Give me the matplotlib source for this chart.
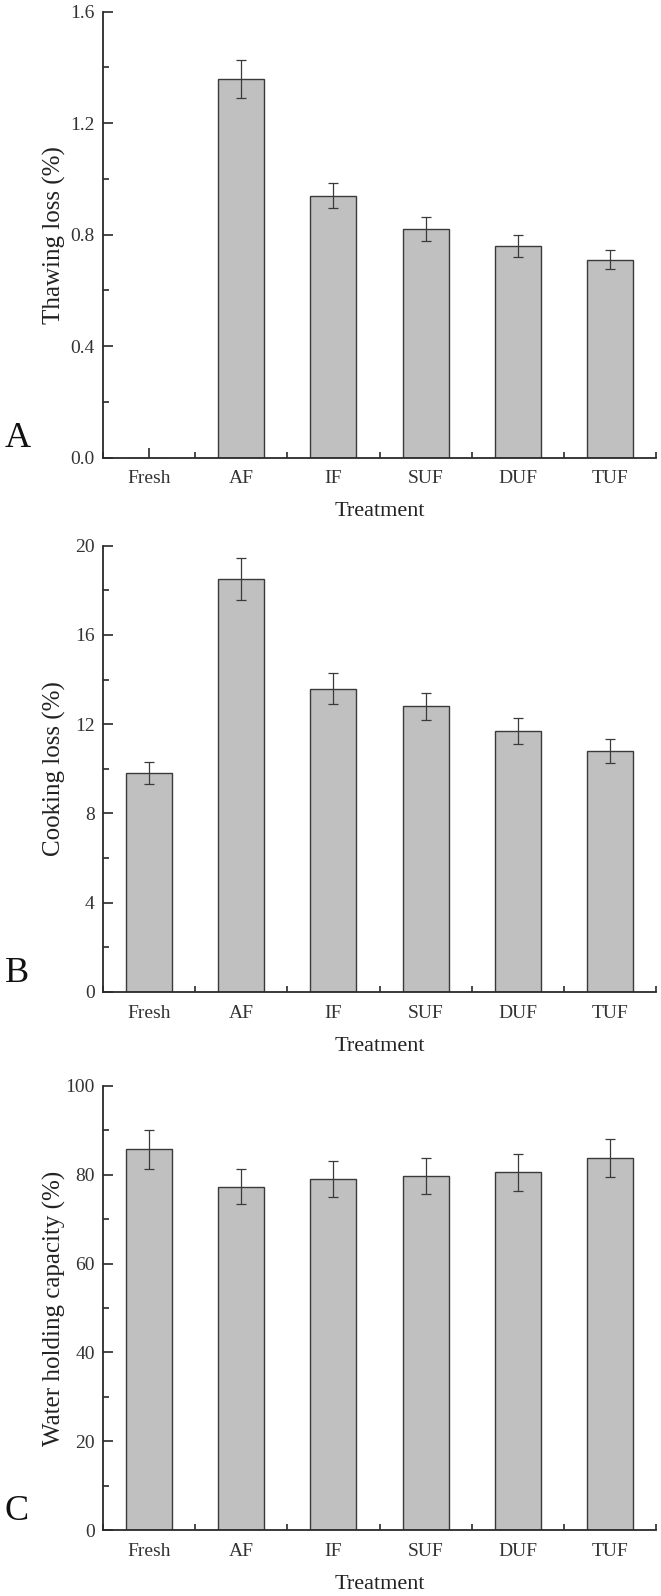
import numpy as np
import matplotlib
matplotlib.use("Agg")
import matplotlib.pyplot as plt
from matplotlib.ticker import MultipleLocator, FixedLocator, FormatStrFormatter

plt.rcParams['font.family'] = ['Liberation Serif', 'DejaVu Serif']

treatments = ['Fresh', 'AF', 'IF', 'SUF', 'DUF', 'TUF']

thawing_loss = [0.0, 1.36, 0.94, 0.82, 0.76, 0.71]
thawing_err = [0.0, 0.068, 0.046, 0.042, 0.040, 0.035]

cooking_loss = [9.8, 18.5, 13.6, 12.8, 11.7, 10.8]
cooking_err = [0.5, 0.94, 0.70, 0.62, 0.57, 0.55]

whc = [85.7, 77.3, 79.0, 79.7, 80.5, 83.7]
whc_err = [4.4, 3.9, 4.1, 4.0, 4.1, 4.2]

W, H = 661, 1596
fig = plt.figure(figsize=(W / 100, H / 100), dpi=100)

def px_rect(left, top, right, bottom):
    return [left / W, 1 - bottom / H, (right - left) / W, (bottom - top) / H]

panels = [
    ('A', thawing_loss, thawing_err, 'Thawing loss (%)', 1.6, 0.4, 0.2, '%.1f', (11.7, 457.5)),
    ('B', cooking_loss, cooking_err, 'Cooking loss (%)', 20, 4, 2, '%d', (545.7, 992.0)),
    ('C', whc, whc_err, 'Water holding capacity (%)', 100, 20, 10, '%d', (1085.7, 1530.3)),
]

x = np.arange(1, len(treatments) + 1)
dark = '#2a2a2a'

for letter, vals, errs, ylabel, ymax, major, minor, fmt, (top, bot) in panels:
    ax = fig.add_axes(px_rect(103, top, 656, bot))
    ax.bar(x, vals, width=0.5, color='#c0c0c0', edgecolor='#3a3a3a', linewidth=1.0, zorder=2)
    # no error bar drawn where the value is zero (Fresh thawing loss)
    xs = [xi for xi, e in zip(x, errs) if e > 0]
    vs = [v for v, e in zip(vals, errs) if e > 0]
    es = [e for e in errs if e > 0]
    ax.errorbar(xs, vs, yerr=es, fmt='none', ecolor='#3a3a3a', elinewidth=0.9,
                capsize=3.5, capthick=0.9, zorder=3)
    ax.set_xlim(0.5, 6.5)
    ax.set_ylim(0, ymax)
    for s in ['top', 'right']:
        ax.spines[s].set_visible(False)
    for s in ['left', 'bottom']:
        ax.spines[s].set_linewidth(1.3)
        ax.spines[s].set_color(dark)
    ax.set_xticks(x)
    ax.set_xticklabels(treatments)
    ax.xaxis.set_minor_locator(FixedLocator(np.arange(0.5, 6.6, 1)))
    ax.yaxis.set_major_locator(MultipleLocator(major))
    ax.yaxis.set_minor_locator(MultipleLocator(minor))
    ax.yaxis.set_major_formatter(FormatStrFormatter(fmt))
    ax.tick_params(which='major', direction='in', length=7, width=1.2, color=dark,
                   labelsize=14, labelcolor='#333333')
    ax.tick_params(which='minor', direction='in', length=4, width=1.2, color=dark)
    ax.tick_params(axis='x', which='major', pad=9)
    ax.tick_params(axis='y', which='major', pad=6)
    ax.set_ylabel(ylabel, fontsize=18, color='#222222', va='center')
    ax.yaxis.set_label_coords(-0.088, 0.5)
    ax.set_xlabel('Treatment', fontsize=16, color='#222222', va='center')
    ax.xaxis.set_label_coords(0.5, -0.122)
    fig.text(5 / W, 1 - (bot - 10.5) / H, letter, fontsize=26, color='#111111',
             ha='left', va='baseline')

fig.savefig('out.png', dpi=100)
